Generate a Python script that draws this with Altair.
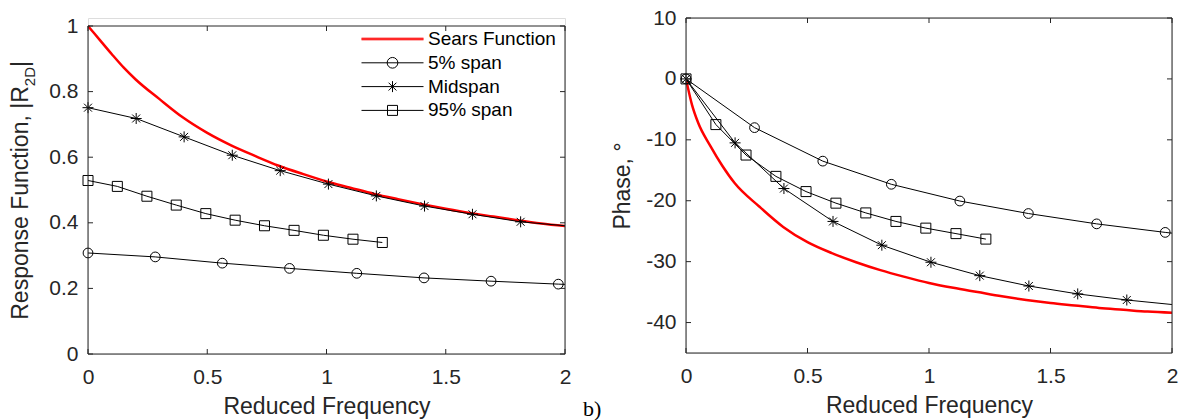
import altair as alt
import pandas as pd

# ---------------- data ----------------
SERIES = ["Sears Function", "5% span", "Midspan", "95% span"]

k_sears_mag = [0, 0.05, 0.1, 0.15, 0.2, 0.3, 0.4, 0.5, 0.6, 0.7, 0.8, 0.9, 1.0, 1.1, 1.2,
               1.3, 1.4, 1.5, 1.6, 1.7, 1.8, 1.9, 2.0]
sears_mag = [1.0, 0.957, 0.914, 0.873, 0.837, 0.777, 0.720, 0.674, 0.636, 0.604, 0.574, 0.549,
             0.526, 0.507, 0.488, 0.472, 0.457, 0.443, 0.430, 0.419, 0.408, 0.398, 0.390]
k_sears_ph = [0, 0.025, 0.05, 0.1, 0.15, 0.2, 0.3, 0.4, 0.5, 0.6, 0.7, 0.8, 0.9, 1.0, 1.1,
              1.2, 1.3, 1.4, 1.5, 1.6, 1.7, 1.8, 1.9, 2.0]
sears_ph = [0, -4.3, -7.2, -11.0, -14.3, -17.1, -20.9, -24.3, -26.8, -28.6, -30.1, -31.4,
            -32.5, -33.5, -34.3, -35.0, -35.7, -36.3, -36.8, -37.2, -37.6, -37.9, -38.2, -38.4]

k_5 = [0, 0.282, 0.563, 0.845, 1.127, 1.409, 1.690, 1.972, 2.254]
mag_5 = [0.308, 0.296, 0.277, 0.261, 0.246, 0.232, 0.222, 0.213, 0.205]
ph_5 = [0, -8.0, -13.5, -17.3, -20.05, -22.1, -23.8, -25.2, -26.4]

k_mid = [0, 0.202, 0.403, 0.605, 0.806, 1.008, 1.209, 1.411, 1.612, 1.814, 2.015]
mag_mid = [0.751, 0.718, 0.662, 0.606, 0.559, 0.518, 0.482, 0.451, 0.426, 0.403, 0.390]
ph_mid = [0, -10.5, -18.0, -23.4, -27.3, -30.1, -32.3, -34.0, -35.3, -36.3, -37.1]

k_95 = [0, 0.123, 0.247, 0.370, 0.494, 0.617, 0.740, 0.864, 0.987, 1.111, 1.234]
mag_95 = [0.529, 0.511, 0.481, 0.454, 0.428, 0.408, 0.391, 0.377, 0.362, 0.350, 0.340]
ph_95 = [0, -7.5, -12.5, -16.0, -18.5, -20.4, -22.0, -23.4, -24.5, -25.4, -26.3]

x_lim = [0, 2]
mag_lim = [0, 1]
ph_lim = [-45, 10]
x_ticks = [0, 0.5, 1, 1.5, 2]
mag_ticks = [0, 0.2, 0.4, 0.6, 0.8, 1]
ph_ticks = [-40, -30, -20, -10, 0, 10]

x_title = "Reduced Frequency"
mag_title_parts = ["Response Function, |R", "2D", "|"]
ph_title = "Phase, \u00b0"
panel_label = "b)"

# ---------------- styling ----------------
FONT = "Liberation Sans"
TXT = "#262626"
RED = "#ff0000"
STAR = "M0,-1V1M-1,0H1M-0.72,-0.72L0.72,0.72M-0.72,0.72L0.72,-0.72"
LEG_PATHS = [
    "M-10.2,0H2.2M-10.2,-0.16H2.2M-10.2,0.16H2.2",
    "M-10.2,0H2.2M-2.93,0A1.07,1.07,0,1,1,-5.07,0A1.07,1.07,0,1,1,-2.93,0",
    "M-10.2,0H2.2M-4,-1.1V1.1M-4.78,-0.78L-3.22,0.78M-4.78,0.78L-3.22,-0.78",
    "M-10.2,0H2.2M-5,-1H-3V1H-5Z",
]
LEG_COLORS = [RED, "black", "black", "black"]

LEFT_W, LEFT_H = 477, 336      # plot area incl. 8 px headroom above y = 1
RIGHT_W, RIGHT_H = 486, 335
LEFT_TOP_EXTRA = 8


def df(k, v, name):
    return pd.DataFrame({"k": k, "v": v, "series": name})


def panel(W, H, ydom, ylim, yticks, ytitle, sears, s5, smid, s95, with_legend, ytop_shift):
    X = alt.X("k:Q", scale=alt.Scale(domain=x_lim, nice=False, zero=False),
              axis=alt.Axis(values=x_ticks, title=x_title, labelExpr="datum.value + ''",
                            domain=False, ticks=False, grid=False, labelFlush=False,
                            labelFont=FONT, labelFontSize=21, labelColor=TXT, labelPadding=12,
                            titleFont=FONT, titleFontSize=23, titleFontWeight="normal",
                            titleColor=TXT, titlePadding=8))
    yaxis = dict(values=yticks, labelExpr="datum.value + ''", domain=False, ticks=False,
                 grid=False, labelFont=FONT, labelFontSize=21, labelColor=TXT,
                 labelPadding=10, titleFont=FONT, titleFontSize=23,
                 titleFontWeight="normal", titleColor=TXT, titlePadding=11)
    yaxis["title"] = ytitle if ytitle is not None else ""
    Y = alt.Y("v:Q", scale=alt.Scale(domain=ydom, nice=False, zero=False), axis=alt.Axis(**yaxis))

    layers = []
    layers.append(alt.Chart(sears).mark_line(color=RED, strokeWidth=2.5, clip=True,
                                             interpolate="monotone").encode(x=X, y=Y))
    for d, shp, sz in [(s5, "circle", 95), (smid, STAR, 121), (s95, "square", 100)]:
        layers.append(alt.Chart(d).mark_line(color="black", strokeWidth=1, clip=True).encode(x=X, y=Y))
        layers.append(alt.Chart(d).transform_filter("datum.k <= 2").mark_point(
            shape=shp, size=sz, filled=False, color="black", strokeWidth=1, opacity=1
        ).encode(x=X, y=Y))

    # axes box
    hb = pd.DataFrame({"k": [x_lim[0], x_lim[0]], "k2": [x_lim[1], x_lim[1]], "v": ylim})
    vb = pd.DataFrame({"k": x_lim, "v": [ylim[0], ylim[0]], "v2": [ylim[1], ylim[1]]})
    layers.append(alt.Chart(hb).mark_rule(color=TXT, strokeWidth=1).encode(x=X, x2="k2:Q", y=Y))
    layers.append(alt.Chart(vb).mark_rule(color=TXT, strokeWidth=1).encode(x=X, y=Y, y2="v2:Q"))

    # inside tick marks on all four sides
    n = len(x_ticks)
    m = len(yticks)
    xb = pd.DataFrame({"k": x_ticks, "v": [ylim[0]] * n})
    xtp = pd.DataFrame({"k": x_ticks, "v": [ylim[1]] * n})
    yl = pd.DataFrame({"k": [x_lim[0]] * m, "v": yticks})
    yr = pd.DataFrame({"k": [x_lim[1]] * m, "v": yticks})
    layers.append(alt.Chart(xb).mark_tick(orient="vertical", size=5, thickness=1, color=TXT,
                                          opacity=1, yOffset=-2.5).encode(x=X, y=Y))
    layers.append(alt.Chart(xtp).mark_tick(orient="vertical", size=5, thickness=1, color=TXT,
                                           opacity=1, yOffset=2.5).encode(x=X, y=Y))
    layers.append(alt.Chart(yl).mark_tick(orient="horizontal", size=5, thickness=1, color=TXT,
                                          opacity=1, xOffset=2.5).encode(x=X, y=Y))
    layers.append(alt.Chart(yr).mark_tick(orient="horizontal", size=5, thickness=1, color=TXT,
                                          opacity=1, xOffset=-2.5).encode(x=X, y=Y))

    if with_legend:
        leg = alt.Legend(title=None, orient="none", legendX=315, legendY=19.5 - ytop_shift, padding=0,
                         symbolSize=100, symbolStrokeWidth=1, labelFont=FONT,
                         labelFontSize=19, labelColor="black", labelOffset=6,
                         rowPadding=3.8, labelLimit=400)
        ldf = pd.DataFrame({"series": SERIES})
        layers.append(alt.Chart(ldf).transform_filter("false").mark_point(
            filled=False, size=100, strokeWidth=1, opacity=1).encode(
            color=alt.Color("series:N", scale=alt.Scale(domain=SERIES, range=LEG_COLORS), legend=leg),
            shape=alt.Shape("series:N", scale=alt.Scale(domain=SERIES, range=LEG_PATHS), legend=leg),
        ))
        # y title with subscript
        t = pd.DataFrame({"t": [mag_title_parts[0]]})
        layers.append(alt.Chart(t).mark_text(angle=270, align="right", baseline="alphabetic",
                                             font=FONT, fontSize=23, color=TXT).encode(
            text="t:N", x=alt.value(-60.5), y=alt.value(60.2 + ytop_shift)))
        t2 = pd.DataFrame({"t": [mag_title_parts[1]]})
        layers.append(alt.Chart(t2).mark_text(angle=270, align="left", baseline="alphabetic",
                                              font=FONT, fontSize=15, color=TXT).encode(
            text="t:N", x=alt.value(-53), y=alt.value(60.2 + ytop_shift)))
        t3 = pd.DataFrame({"t": [mag_title_parts[2]]})
        layers.append(alt.Chart(t3).mark_text(angle=270, align="left", baseline="alphabetic",
                                              font=FONT, fontSize=23, color=TXT).encode(
            text="t:N", x=alt.value(-60.5), y=alt.value(41 + ytop_shift)))
    else:
        t = pd.DataFrame({"t": [panel_label]})
        layers.append(alt.Chart(t).mark_text(align="left", baseline="alphabetic",
                                             font="Liberation Serif", fontSize=22, color="black").encode(
            text="t:N", x=alt.value(-103), y=alt.value(398)))

    return alt.layer(*layers).properties(width=W, height=H)


left_top = mag_lim[1] + (mag_lim[1] - mag_lim[0]) * LEFT_TOP_EXTRA / (LEFT_H - LEFT_TOP_EXTRA)
left = panel(LEFT_W, LEFT_H, [mag_lim[0], left_top], mag_lim, mag_ticks, None,
             df(k_sears_mag, sears_mag, SERIES[0]), df(k_5, mag_5, SERIES[1]),
             df(k_mid, mag_mid, SERIES[2]), df(k_95, mag_95, SERIES[3]), True, LEFT_TOP_EXTRA)
right = panel(RIGHT_W, RIGHT_H, ph_lim, ph_lim, ph_ticks, ph_title,
              df(k_sears_ph, sears_ph, SERIES[0]), df(k_5, ph_5, SERIES[1]),
              df(k_mid, ph_mid, SERIES[2]), df(k_95, ph_95, SERIES[3]), False, 0)

chart = alt.hconcat(left, right, spacing=10).properties(
    padding={"left": 9, "top": 6, "right": 0, "bottom": 0}
).configure_view(stroke="transparent").configure(background="white")

chart.save("out.html", embed_options={"renderer": "svg", "actions": False})
